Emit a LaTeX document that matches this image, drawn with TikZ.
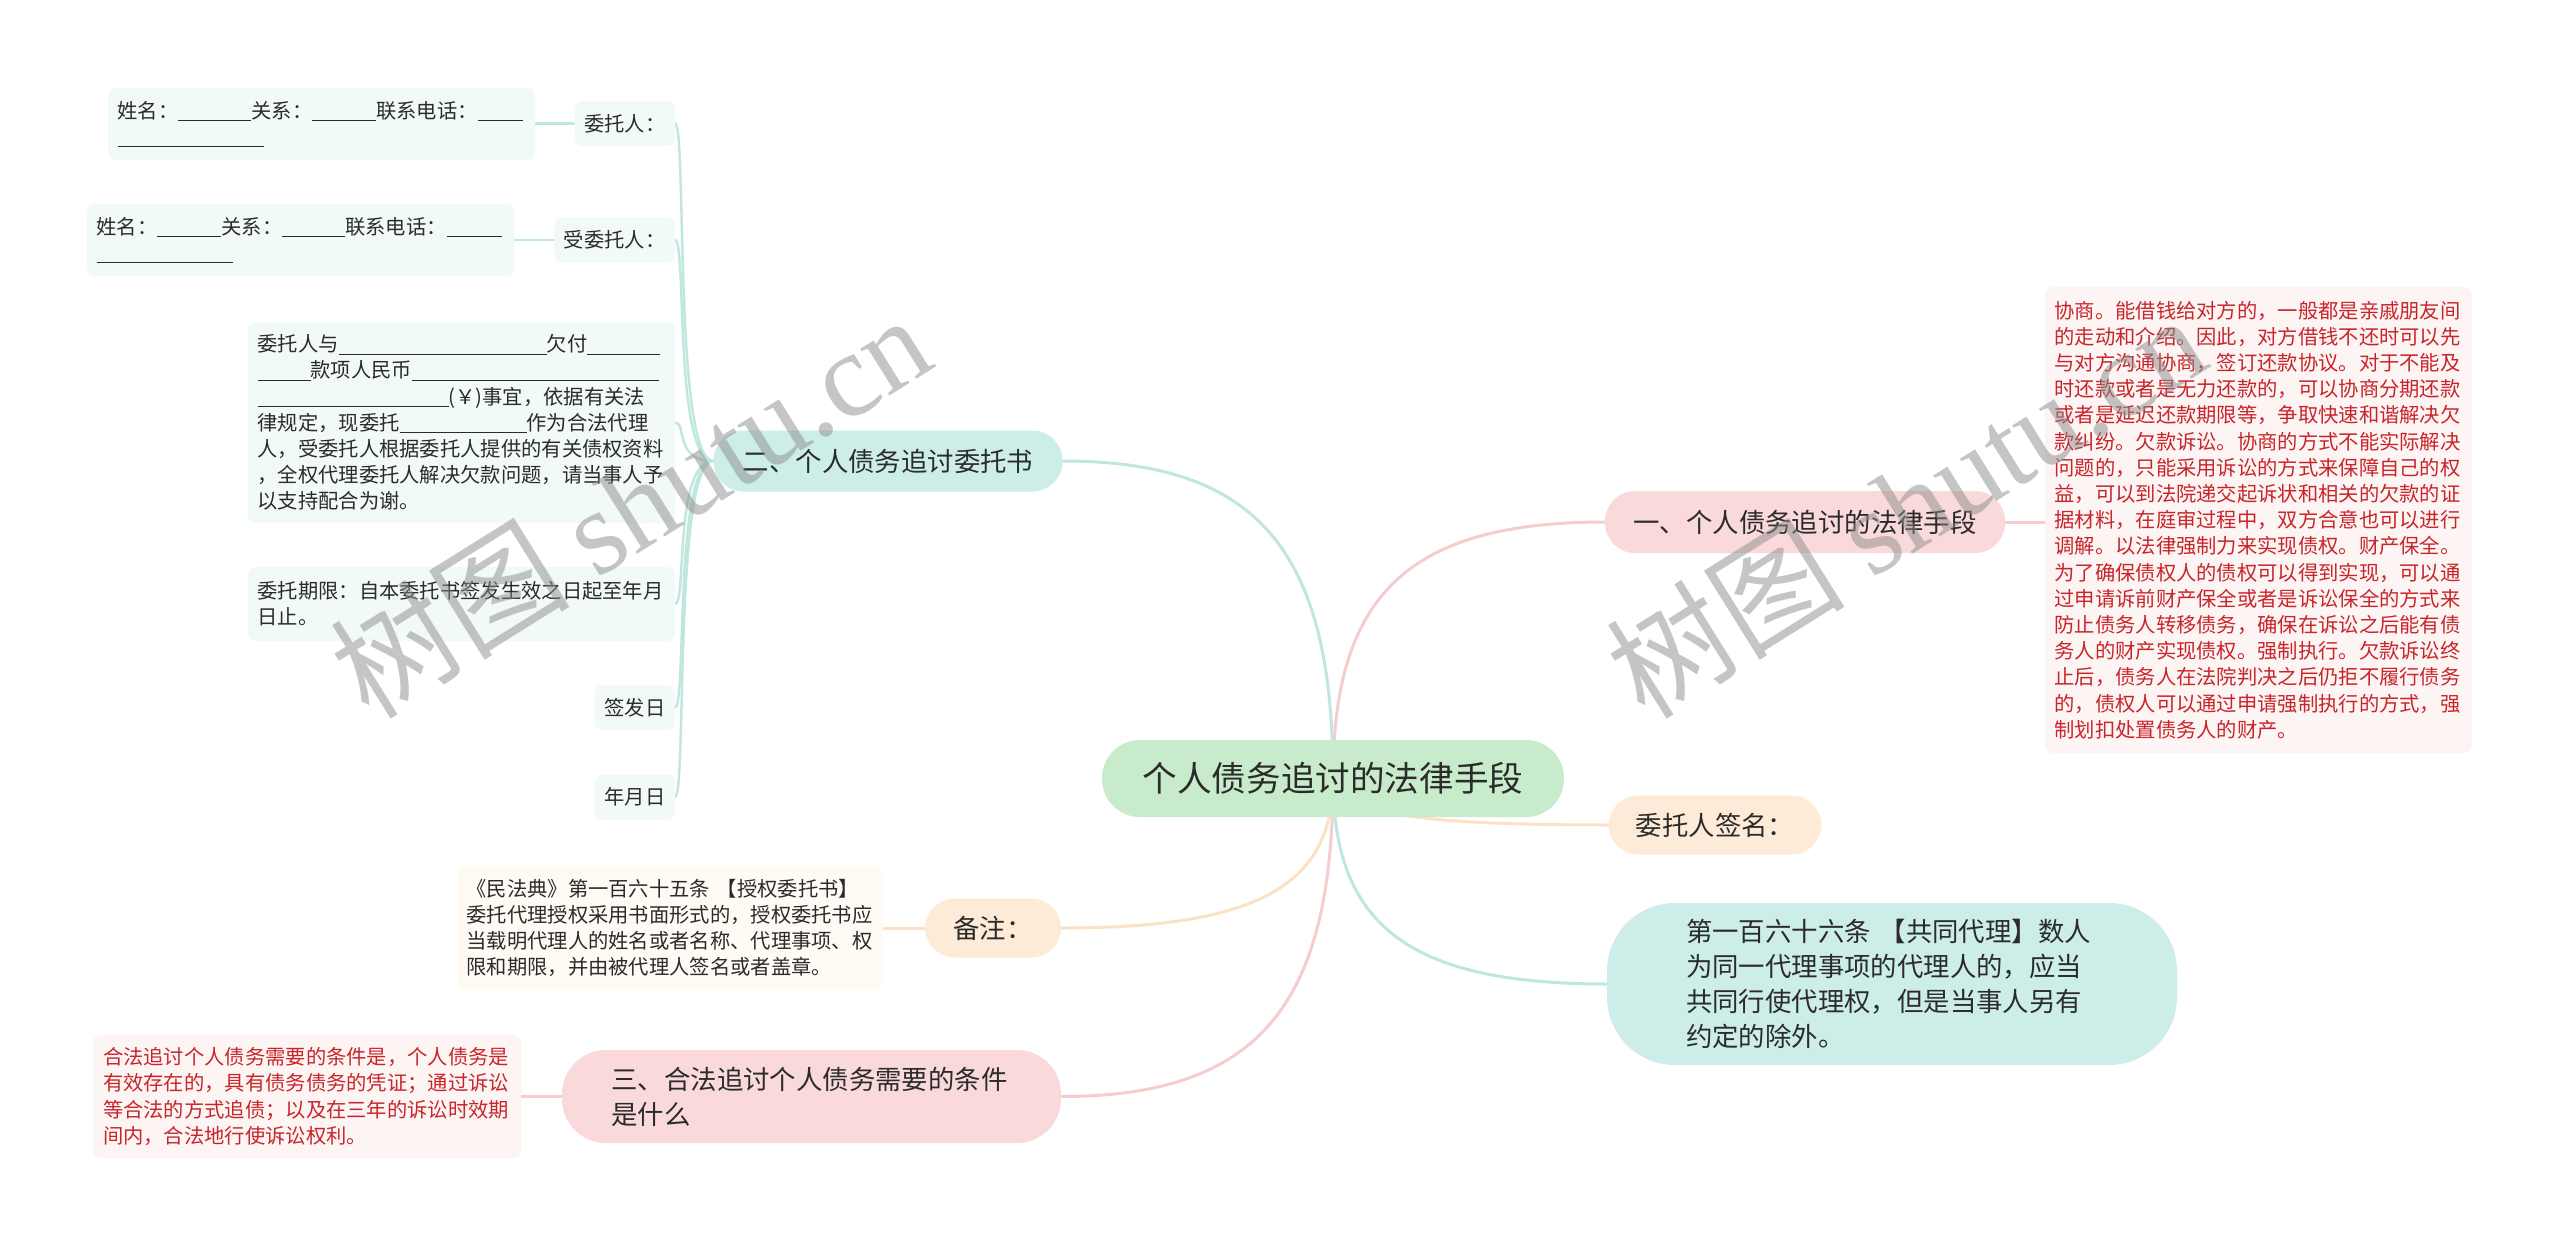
\documentclass[tikz,border=0pt]{standalone}
\usepackage{fontspec}
\setmainfont{Noto Sans CJK SC}
\newfontfamily\wmlatin{Liberation Serif}
\usetikzlibrary{calc,backgrounds}
\definecolor{txt}{HTML}{2B2B2B}
\definecolor{redtxt}{HTML}{C8252A}
\definecolor{ctrfill}{HTML}{C8EBCB}
\definecolor{tealfill}{HTML}{CDEEE8}
\definecolor{pinkfill}{HTML}{F9D9DA}
\definecolor{peachfill}{HTML}{FDEBD7}
\definecolor{tealpale}{HTML}{F1FAF8}
\definecolor{pinkpale}{HTML}{FDF4F4}
\definecolor{peachpale}{HTML}{FFFAF3}
\definecolor{tealline}{HTML}{BFE6DF}
\definecolor{pinkline}{HTML}{F6CDCF}
\definecolor{peachline}{HTML}{FBE2C6}
\newcommand\blank[1]{\rule[-0.14em]{#1}{0.45pt}}
\newcommand\branchcurve[3]{\draw[conn,#1] (#2) .. controls ($(#2)!0.72!(#2 |- #3)$) and ($(#3)!0.72!(#2 |- #3)$) .. (#3);}
\begin{document}
\begin{tikzpicture}[x=0.5pt,y=-0.5pt,
  every node/.style={inner sep=0pt, outer sep=0pt, text=txt},
  smallfont/.style={font=\fontsize{10.15}{13.1}\selectfont},
  medfont/.style={font=\fontsize{13.2}{17.5}\selectfont},
  centre/.style={font=\fontsize{17.3}{21}\selectfont, fill=ctrfill, rounded corners=19pt, minimum width=231pt, minimum height=38.5pt},
  topic/.style={medfont, rounded corners=15pt},
  tag/.style={smallfont, fill=tealpale, rounded corners=4pt, inner xsep=4.8pt, minimum height=22.5pt},
  leafbox/.style={smallfont, fill=tealpale, rounded corners=4pt, align=left, text width=204pt, inner xsep=4.75pt},
  notebox/.style={smallfont, fill=peachpale, rounded corners=4pt, align=left, text width=204pt, inner xsep=4.25pt},
  redbox/.style={smallfont, text=redtxt, fill=pinkpale, rounded corners=4pt, align=left, text width=204pt, inner xsep=4.75pt},
  conn/.style={line width=1.5pt, line cap=round},
  childline/.style={line width=1.2pt, tealline, line cap=round},
  wmark/.style={font=\fontsize{60}{60}\selectfont, text=black!45, text opacity=0.5}
]
\useasboundingbox (0,0) rectangle (2560,1247);

% centre
\node[centre] (ctr) at (1333,778.5) {个人债务追讨的法律手段};

% right side
\node[topic, fill=pinkfill, minimum width=200pt, minimum height=31pt] (b1) at (1805,522) {一、个人债务追讨的法律手段};
\node[redbox, anchor=west, minimum height=233pt] (r1) at (2045,520) {协商。能借钱给对方的，一般都是亲戚朋友间\\%
的走动和介绍。因此，对方借钱不还时可以先\\%
与对方沟通协商，签订还款协议。对于不能及\\%
时还款或者是无力还款的，可以协商分期还款\\%
或者是延迟还款期限等，争取快速和谐解决欠\\%
款纠纷。欠款诉讼。协商的方式不能实际解决\\%
问题的，只能采用诉讼的方式来保障自己的权\\%
益，可以到法院递交起诉状和相关的欠款的证\\%
据材料，在庭审过程中，双方合意也可以进行\\%
调解。以法律强制力来实现债权。财产保全。\\%
为了确保债权人的债权可以得到实现，可以通\\%
过申请诉前财产保全或者是诉讼保全的方式来\\%
防止债务人转移债务，确保在诉讼之后能有债\\%
务人的财产实现债权。强制执行。欠款诉讼终\\%
止后，债务人在法院判决之后仍拒不履行债务\\%
的，债权人可以通过申请强制执行的方式，强\\%
制划扣处置债务人的财产。};
\node[topic, fill=peachfill, minimum width=106.5pt, minimum height=29.5pt] (b2) at (1715,825) {委托人签名：};
\node[topic, fill=tealfill, minimum width=285pt, minimum height=81pt, rounded corners=34pt, text width=206pt, align=left] (b3) at (1892,984) {第一百六十六条 【共同代理】数人\\%
为同一代理事项的代理人的，应当\\%
共同行使代理权，但是当事人另有\\%
约定的除外。};

% left side
\node[topic, fill=tealfill, minimum width=174.5pt, minimum height=30.5pt] (l1) at (888,461) {二、个人债务追讨委托书};
\node[topic, fill=peachfill, minimum width=68pt, minimum height=29.5pt] (l2) at (993,928) {备注：};
\node[topic, fill=pinkfill, minimum width=249.5pt, minimum height=46.5pt, rounded corners=22pt, text width=200pt, align=left] (l3) at (811.5,1096.5) {三、合法追讨个人债务需要的条件\\%
是什么};

\node[tag, anchor=east] (k1) at (675,123.5) {委托人：};
\node[tag, anchor=east] (k2) at (675,240) {受委托人：};
\node[leafbox, anchor=east, minimum height=36pt] (p1) at (535,124) {姓名：\blank{36.5pt}关系：\blank{32pt}联系电话：\blank{22.5pt}\\%
\blank{73pt}};
\node[leafbox, anchor=east, minimum height=36pt] (p2) at (514,240) {姓名：\blank{32pt}关系：\blank{31.5pt}联系电话：\blank{27.5pt}\\%
\blank{68pt}};
\node[leafbox, anchor=east, minimum height=100.5pt] (p3) at (675,422.5) {委托人与\blank{104pt}欠付\blank{36.5pt}\\%
\blank{26.5pt}款项人民币\blank{123.5pt}\\%
\blank{95.5pt}(￥)事宜，依据有关法\\%
律规定，现委托\blank{63.5pt}作为合法代理\\%
人，受委托人根据委托人提供的有关债权资料\\%
，全权代理委托人解决欠款问题，请当事人予\\%
以支持配合为谢。};
\node[leafbox, anchor=east, minimum height=37pt] (p4) at (675,604) {委托期限：自本委托书签发生效之日起至年月\\%
日止。};
\node[tag, anchor=east] (k3) at (675,707.5) {签发日};
\node[tag, anchor=east] (k4) at (675,797) {年月日};

\node[notebox, anchor=east, minimum height=62.5pt] (n1) at (883,928) {《民法典》第一百六十五条 【授权委托书】\\%
委托代理授权采用书面形式的，授权委托书应\\%
当载明代理人的姓名或者名称、代理事项、权\\%
限和期限，并由被代理人签名或者盖章。};
\node[redbox, anchor=east, minimum height=61.5pt, inner xsep=5pt] (n2) at (521,1096.5) {合法追讨个人债务需要的条件是，个人债务是\\%
有效存在的，具有债务债务的凭证；通过诉讼\\%
等合法的方式追债；以及在三年的诉讼时效期\\%
间内，合法地行使诉讼权利。};

% connectors and page background
\begin{scope}[on background layer]
\fill[white] (0,0) rectangle (2560,1247);
\branchcurve{pinkline}{ctr.center}{b1.west}
\branchcurve{peachline}{ctr.center}{b2.west}
\branchcurve{tealline}{ctr.center}{b3.west}
\branchcurve{tealline}{ctr.center}{l1.east}
\branchcurve{peachline}{ctr.center}{l2.east}
\branchcurve{pinkline}{ctr.center}{l3.east}
\draw[conn, pinkline] (b1.east) -- (b1.east -| r1.west);
\draw[conn, pinkline] (l3.west) -- (l3.west -| n2.east);
\draw[conn, peachline] (l2.west) -- (l2.west -| n1.east);
\draw[childline] (k1.west) -- (k1.west -| p1.east);
\draw[childline] (k2.west) -- (k2.west -| p2.east);
\foreach \c in {k1,k2,p3,p4,k3,k4}
  \draw[childline] (l1.west) .. controls ($(l1.west)+(-40,0)$) and ($(\c.east)+(12,0)$) .. (\c.east);
\end{scope}

% watermarks
\node[wmark, rotate=32] (w1) at (630,505) {树图 {\wmlatin shutu.cn}};
\node[wmark, rotate=32] (w2) at (1905,505) {树图 {\wmlatin shutu.cn}};
\end{tikzpicture}
\end{document}
